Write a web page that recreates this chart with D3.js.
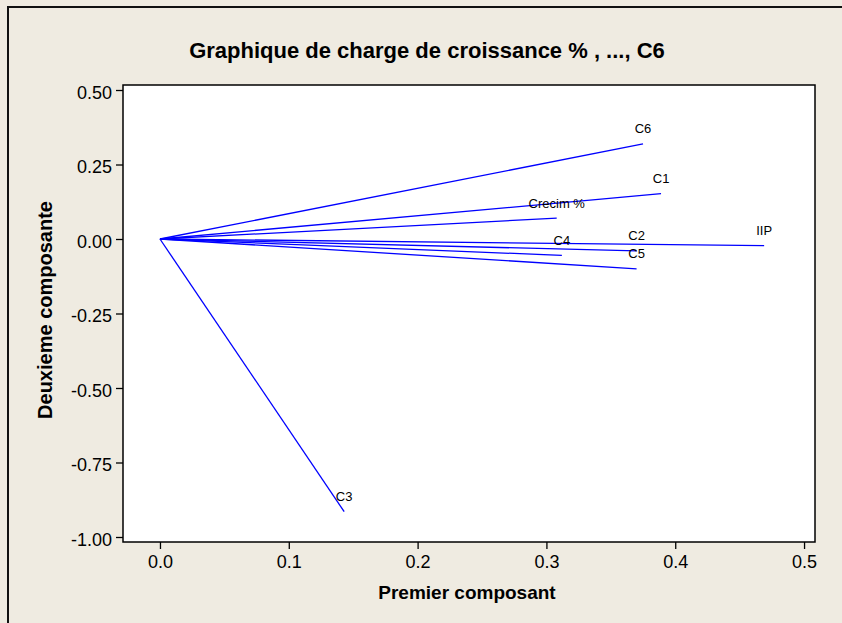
<!DOCTYPE html>
<html>
<head>
<meta charset="utf-8">
<script src="https://cdn.jsdelivr.net/npm/d3@7"></script>
<style>
  body { margin: 0; background: #efebe1; }
  text { font-family: "Liberation Sans", Arial, sans-serif; fill: #000; }
</style>
</head>
<body>
<svg id="drawing_region"></svg>
<script>
// loadings
const variables = ["Crecim %", "IIP", "C1", "C2", "C3", "C4", "C5", "C6"];
const premier   = [0.308, 0.469, 0.389, 0.370, 0.143, 0.312, 0.370, 0.375];
const deuxieme  = [0.070, -0.022, 0.152, -0.040, -0.915, -0.055, -0.100, 0.319];

const xTicks = [0, 0.1, 0.2, 0.3, 0.4, 0.5];
const yTicks = [0.5, 0.25, 0, -0.25, -0.5, -0.75, -1];

const title = "Graphique de charge de croissance % , ..., C6";
const xTitle = "Premier composant";
const yTitle = "Deuxieme composante";

const width = 842, height = 623;
const frame = {left: 123, right: 815, top: 85, bottom: 542};

const svg = d3.select('#drawing_region')
    .attr('width', width)
    .attr('height', height);

svg.append('rect')
    .attr('width', width).attr('height', height)
    .attr('fill', '#efebe1');

// outer border (top and left only visible)
svg.append('path')
    .attr('d', `M8,${height} L8,7 L${width},7`)
    .attr('fill', 'none')
    .attr('stroke', '#111')
    .attr('stroke-width', 2);

const xscale = d3.scaleLinear()
    .domain([-0.0287, 0.5085])
    .range([frame.left, frame.right]);

const yscale = d3.scaleLinear()
    .domain([-1.0168, 0.5168])
    .range([frame.bottom, frame.top]);

svg.append('rect')
    .attr('x', frame.left).attr('y', frame.top)
    .attr('width', frame.right - frame.left)
    .attr('height', frame.bottom - frame.top)
    .attr('fill', '#fff')
    .attr('stroke', '#000')
    .attr('stroke-width', 1.5);

// axes
const xaxis = d3.axisBottom(xscale)
    .tickValues(xTicks)
    .tickSize(7)
    .tickPadding(6)
    .tickFormat(d => d.toFixed(1));

const yaxis = d3.axisLeft(yscale)
    .tickValues(yTicks)
    .tickSize(7)
    .tickPadding(4)
    .tickFormat(d => d.toFixed(2));

const gx = svg.append('g')
    .attr('transform', `translate(0, ${frame.bottom})`)
    .call(xaxis);
const gy = svg.append('g')
    .attr('transform', `translate(${frame.left}, 0)`)
    .call(yaxis);

[gx, gy].forEach(g => {
    g.select('.domain').remove();
    g.selectAll('.tick line').attr('stroke', '#000').attr('stroke-width', 1.3);
    g.selectAll('.tick text')
        .style('font-family', '"Liberation Sans", Arial, sans-serif')
        .style('font-size', '18px')
        .attr('fill', '#000');
});
gy.selectAll('.tick text').attr('dy', '0.45em');

// loading vectors
const data = variables.map((v, i) => ({name: v, x: premier[i], y: deuxieme[i]}));

svg.append('g')
    .selectAll('line')
    .data(data)
    .enter()
    .append('line')
    .attr('x1', xscale(0))
    .attr('y1', yscale(0))
    .attr('x2', d => xscale(d.x))
    .attr('y2', d => yscale(d.y))
    .attr('stroke', '#0000ff')
    .attr('stroke-width', 1.3);

svg.append('g')
    .selectAll('text')
    .data(data)
    .enter()
    .append('text')
    .attr('x', d => xscale(d.x))
    .attr('y', d => yscale(d.y) - 10.5)
    .attr('text-anchor', 'middle')
    .style('font-size', '13px')
    .text(d => d.name);

// titles
svg.append('text')
    .attr('x', 427).attr('y', 58)
    .attr('text-anchor', 'middle')
    .style('font-size', '22px')
    .style('font-weight', 'bold')
    .text(title);

svg.append('text')
    .attr('x', 467).attr('y', 599)
    .attr('text-anchor', 'middle')
    .style('font-size', '19px')
    .style('font-weight', 'bold')
    .text(xTitle);

svg.append('text')
    .attr('transform', 'translate(52, 310) rotate(-90)')
    .attr('text-anchor', 'middle')
    .style('font-size', '20px')
    .style('font-weight', 'bold')
    .text(yTitle);
</script>
</body>
</html>
